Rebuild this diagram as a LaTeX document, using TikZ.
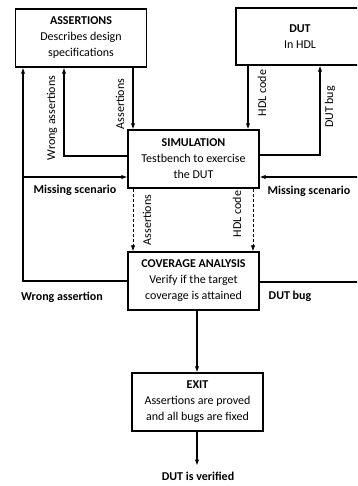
\documentclass[tikz,border=0pt]{standalone}
\usepackage{fontspec}
\setmainfont{Carlito}
\usetikzlibrary{arrows.meta}
\begin{document}
\begin{tikzpicture}[x=1pt,y=-1pt,
  box/.style={draw, line width=1.4pt, minimum width=131pt, minimum height=58pt, inner sep=0pt, align=center, font=\fontsize{12}{16}\selectfont},
  ln/.style={line width=1.1pt},
  arr/.style={ln, -{Latex[length=6pt,width=4.5pt]}},
  dsh/.style={arr, line width=0.8pt, dash pattern=on 3pt off 2pt},
  lbl/.style={font=\fontsize{12}{14}\selectfont, inner sep=0pt},
  blbl/.style={inner sep=0pt, font=\fontsize{12}{14}\selectfont\bfseries},
  vlbl/.style={lbl, rotate=90}]
\useasboundingbox (0,0) rectangle (357,486);
\clip (0,0) rectangle (357,486);
\fill[white] (0,0) rectangle (357,486);

\node[box] (asr) at (81,38) {\textbf{ASSERTIONS}\\Describes design\\specifications};
\node[box, minimum width=128pt, minimum height=57pt] (dut) at (300,36.5) {\textbf{DUT}\\In HDL};
\node[box] (sim) at (193.5,159) {\textbf{SIMULATION}\\Testbench to exercise\\the DUT};
\node[box] (cov) at (193.5,281) {\textbf{COVERAGE ANALYSIS}\\Verify if the target\\coverage is attained};
\node[box] (exit) at (197.5,402) {\textbf{EXIT}\\Assertions are proved\\and all bugs are fixed};
\node[blbl] (ver) at (198,476) {DUT is verified};

\coordinate (x1) at (23,0);
\coordinate (x2) at (64,0);
\coordinate (x3) at (133,0);
\coordinate (x4) at (248,0);
\coordinate (x5) at (320,0);
\coordinate (x6) at (253,0);
\coordinate (x7) at (197,0);
\coordinate (y1) at (0,156);
\coordinate (y2) at (0,177);
\coordinate (y3) at (0,155);
\coordinate (re1) at (362,177);
\coordinate (re2) at (362,282);

\draw[arr] (cov.west) -| (asr.south -| x1);
\draw[arr] (sim.west |- y1) -| (asr.south -| x2);
\draw[arr] (x1 |- y2) -- (sim.west |- y2);
\draw[arr] (asr.south -| x3) -- (sim.north -| x3);
\draw[arr] (dut.south -| x4) -- (sim.north -| x4);
\draw[arr] (sim.east |- y3) -| (dut.south -| x5);
\draw[arr] (re1) -- (sim.east |- re1);
\draw[dsh] (sim.south -| x3) -- (cov.north -| x3);
\draw[dsh] (sim.south -| x6) -- (cov.north -| x6);
\draw[ln] (cov.east |- re2) -- (re2);
\draw[arr] (cov.south -| x7) -- (exit.north -| x7);
\draw[arr, shorten >=6pt] (exit.south -| x7) -- (ver.north -| x7);

\node[blbl] (lwa) at (62,297) {Wrong assertion};
\node[vlbl] (lwas) at (52,118) {Wrong assertions};
\node[blbl] (lms1) at (75,190) {Missing scenario};
\node[vlbl] (la1) at (120,104) {Assertions};
\node[vlbl] (lh1) at (262,93) {HDL code};
\node[vlbl] (ldb1) at (330,107) {DUT bug};
\node[blbl] (lms2) at (309,191) {Missing scenario};
\node[vlbl] (la2) at (147,220) {Assertions};
\node[vlbl] (lh2) at (237,214) {HDL code};
\node[blbl] (ldb2) at (290,296) {DUT bug};
\end{tikzpicture}
\end{document}
